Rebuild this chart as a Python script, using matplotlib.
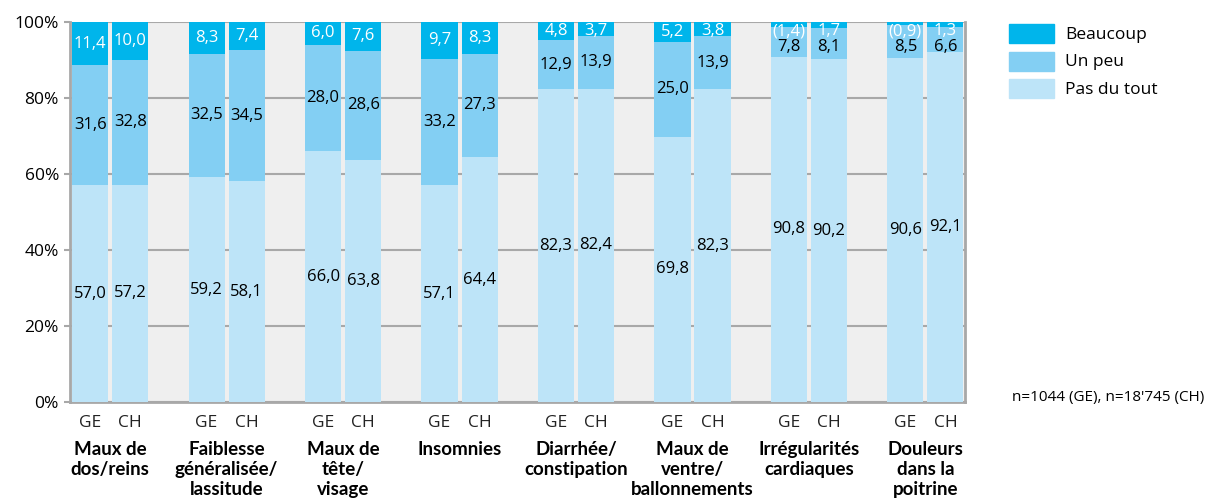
import numpy as np
import matplotlib.pyplot as plt
from matplotlib.patches import Rectangle

categories = ['Maux de\ndos/reins', 'Faiblesse\ngénéralisée/\nlassitude', 'Maux de\ntête/\nvisage',
              'Insomnies', 'Diarrhée/\nconstipation', 'Maux de\nventre/\nballonnements',
              'Irrégularités\ncardiaques', 'Douleurs\ndans la\npoitrine']
regions = ['GE', 'CH']

# values per category: [GE, CH]
pas_du_tout = [[57.0, 57.2], [59.2, 58.1], [66.0, 63.8], [57.1, 64.4],
               [82.3, 82.4], [69.8, 82.3], [90.8, 90.2], [90.6, 92.1]]
un_peu = [[31.6, 32.8], [32.5, 34.5], [28.0, 28.6], [33.2, 27.3],
          [12.9, 13.9], [25.0, 13.9], [7.8, 8.1], [8.5, 6.6]]
beaucoup = [[11.4, 10.0], [8.3, 7.4], [6.0, 7.6], [9.7, 8.3],
            [4.8, 3.7], [5.2, 3.8], [1.4, 1.7], [0.9, 1.3]]
# small samples shown in brackets
bracketed = [[False, False]] * 6 + [[True, False], [True, False]]

series_names = ['Beaucoup', 'Un peu', 'Pas du tout']
colors = {'Beaucoup': '#00b5eb', 'Un peu': '#83cff3', 'Pas du tout': '#bde4f8'}

plt.rcParams['font.family'] = ['Open Sans', 'DejaVu Sans']

W, H = 1212, 504
fig = plt.figure(figsize=(W / 100, H / 100), dpi=100)
ax = fig.add_axes([70 / W, 1 - 402 / H, 895 / W, 380 / H])
ax.set_facecolor('#efefef')

x = np.arange(len(categories))
width = 0.31
offsets = [-0.172, 0.172]


def fmt(v):
    return ('%.1f' % v).replace('.', ',')


for j, off in enumerate(offsets):
    p = np.array([r[j] for r in pas_du_tout])
    u = np.array([r[j] for r in un_peu])
    b = np.array([r[j] for r in beaucoup])
    xs = x + off
    ax.bar(xs, p, width, color=colors['Pas du tout'], zorder=3)
    ax.bar(xs, u, width, bottom=p, color=colors['Un peu'], zorder=3)
    ax.bar(xs, b, width, bottom=p + u, color=colors['Beaucoup'], zorder=3)
    for i in range(len(categories)):
        ax.text(xs[i], p[i] / 2, fmt(p[i]), ha='center', va='center', fontsize=12, color='black', zorder=4)
        ax.text(xs[i], min(p[i] + u[i] / 2, 93.5), fmt(u[i]), ha='center', va='center',
                fontsize=12, color='black', zorder=4)
        lab = fmt(b[i])
        if bracketed[i][j]:
            lab = '(' + lab + ')'
        ax.text(xs[i], min(p[i] + u[i] + b[i] / 2, 97.6), lab, ha='center', va='center',
                fontsize=12, color='white', zorder=4)

ax.set_xlim(-0.345, 7.34)
ax.set_ylim(0, 100)
ax.set_yticks([0, 20, 40, 60, 80, 100])
ax.set_yticklabels(['0%', '20%', '40%', '60%', '80%', '100%'], fontsize=12.5)
ax.yaxis.grid(True, color='#a8a8a8', linewidth=1.5, zorder=0)
ax.set_axisbelow(True)
ax.tick_params(axis='y', length=4, width=1.5, color='#a8a8a8', pad=4)
ax.set_xticks([])
for s in ['left', 'bottom', 'right']:
    ax.spines[s].set_color('#a8a8a8')
    ax.spines[s].set_linewidth(2)
ax.spines['top'].set_visible(False)

# region labels and category names under the bars
for i in range(len(categories)):
    for j, off in enumerate(offsets):
        ax.text(x[i] + off, -5.5, regions[j], ha='center', va='center', fontsize=12.5, color='#222222')
    ax.text(x[i], -10.3, categories[i], ha='center', va='top', fontsize=13.5, fontweight='bold',
            family=['Lato', 'DejaVu Sans'], linespacing=1.2, color='black')

# legend
for k, name in enumerate(series_names):
    top = 24 + k * 27.5
    fig.add_artist(Rectangle((1009 / W, 1 - (top + 19) / H), 45 / W, 19 / H,
                             transform=fig.transFigure, color=colors[name]))
    fig.text(1065 / W, 1 - (top + 11) / H, name, fontsize=12.5, ha='left', va='center')

fig.text(1012 / W, 1 - 398 / H, "n=1044 (GE), n=18'745 (CH)", fontsize=11, ha='left', va='center')

fig.savefig('out.png', dpi=100)
